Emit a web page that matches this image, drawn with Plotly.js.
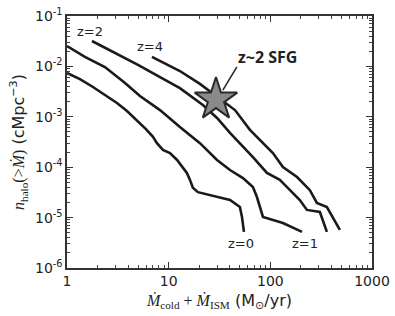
<!DOCTYPE html>
<html>
<head>
<meta charset="utf-8">
<script src="https://cdn.plot.ly/plotly-3.0.1.min.js"></script>
<style>html,body{margin:0;padding:0;background:#fff;}#chart{width:395px;height:316px;}</style>
</head>
<body>
<div id="chart"></div>
<script>
// Cumulative halo number density vs accretion rate
const z0x = [1, 1.34, 1.80, 2.36, 3.10, 3.89, 4.88, 5.98, 7.01, 7.67, 8.79, 10.3, 12.1, 13.8, 15.1, 16.2, 17.3, 19.4, 29.9, 40.1, 50.2, 52.6, 55.0];
const z0y = [7.4e-3, 5.6e-3, 3.9e-3, 2.7e-3, 1.88e-3, 1.30e-3, 8.6e-4, 5.7e-4, 4.0e-4, 3.0e-4, 2.2e-4, 1.9e-4, 1.39e-4, 9.6e-5, 7.7e-5, 5.6e-5, 3.9e-5, 3.2e-5, 2.56e-5, 2.23e-5, 1.62e-5, 1.03e-5, 5.2e-6];

const z1x = [1.00, 1.50, 2.36, 3.72, 5.22, 8.21, 12.9, 20.3, 29.9, 40.1, 53.8, 67.4, 73.8, 84.6, 133, 205];
const z1y = [2.54e-2, 1.54e-2, 9.7e-3, 4.7e-3, 2.59e-3, 1.36e-3, 6.3e-4, 3.0e-4, 1.39e-4, 8.8e-5, 6.1e-5, 4.05e-5, 2.56e-5, 1.03e-5, 7.8e-6, 5.2e-6];

const z2x = [1.76, 2.96, 4.99, 9.20, 12.9, 21.7, 29.9, 40.1, 50.2, 67.4, 92.6, 124, 156, 195, 229, 307, 360];
const z2y = [3.19e-2, 1.85e-2, 1.07e-2, 5.4e-3, 3.7e-3, 1.71e-3, 9.5e-4, 4.8e-4, 3.0e-4, 1.59e-4, 7.7e-5, 5.6e-5, 3.5e-5, 2.23e-5, 1.42e-5, 1.29e-5, 5.2e-6];

const z4x = [6.85, 12.9, 20.3, 44.9, 63.0, 84.6, 106, 133, 183, 245, 287, 360, 483];
const z4y = [1.54e-2, 8.1e-3, 4.5e-3, 1.36e-3, 5.5e-4, 3.0e-4, 1.91e-4, 1.01e-4, 6.4e-5, 3.5e-5, 1.95e-5, 1.62e-5, 5.7e-6];

const starX = [29.2];
const starY = [2.2e-3];

const curveLabels = ['z=0', 'z=1', 'z=2', 'z=4'];
const starLabel = 'z~2 SFG';

const xTickVals = [1, 10, 100, 1000];
const xTickText = ['1', '10', '100', '1000'];
const yTickVals = [1e-6, 1e-5, 1e-4, 1e-3, 1e-2, 1e-1];
const yTickText = ['10<sup>-6</sup>', '10<sup>-5</sup>', '10<sup>-4</sup>', '10<sup>-3</sup>', '10<sup>-2</sup>', '10<sup>-1</sup>'];

const lineStyle = {color: '#1a1a1a', width: 2.6};
function curve(x, y, name) {
  return {x: x, y: y, mode: 'lines', line: lineStyle, name: name, showlegend: false, hoverinfo: 'skip'};
}

const traces = [
  curve(z0x, z0y, curveLabels[0]),
  curve(z1x, z1y, curveLabels[1]),
  curve(z2x, z2y, curveLabels[2]),
  curve(z4x, z4y, curveLabels[3]),
  {x: starX, y: starY, mode: 'markers', showlegend: false, hoverinfo: 'skip',
   marker: {symbol: 'star', size: 32, color: '#8a8a8a', line: {color: '#2a2a2a', width: 2}}}
];

const tickFont = {family: 'DejaVu Sans', size: 14, color: '#222'};
const serif = 'font-family:Liberation Serif, DejaVu Serif';

const axisCommon = {
  type: 'log',
  showgrid: false,
  zeroline: false,
  showline: true,
  linecolor: '#333',
  linewidth: 1.6,
  mirror: 'allticks',
  ticks: 'inside',
  ticklen: 6,
  tickwidth: 1.2,
  tickcolor: '#333',
  tickmode: 'array',
  tickfont: tickFont,
  minor: {ticks: 'inside', ticklen: 3, tickwidth: 1, tickcolor: '#444', dtick: 'D1', showgrid: false}
};

const labelFont = {family: 'DejaVu Sans', size: 13, color: '#222'};
function label(x, y, text, font) {
  return {xref: 'paper', yref: 'paper', x: x, y: y, xanchor: 'center', yanchor: 'middle',
          text: text, showarrow: false, font: font || labelFont};
}

const layout = {
  width: 395, height: 316,
  margin: {l: 67, r: 23, t: 16, b: 48},
  paper_bgcolor: '#fff', plot_bgcolor: '#fff',
  font: {family: 'DejaVu Sans', color: '#222'},
  xaxis: Object.assign({}, axisCommon, {
    range: [0, 3],
    tickvals: xTickVals, ticktext: xTickText,
    title: {
      text: '<span style="' + serif + '"><i>Ṁ</i><sub>cold</sub> + <i>Ṁ</i><sub>ISM</sub></span> (M<sub>⊙</sub>/yr)',
      font: {family: 'DejaVu Sans', size: 16, color: '#222'},
      standoff: 6
    }
  }),
  yaxis: Object.assign({}, axisCommon, {
    range: [-6, -1],
    tickvals: yTickVals, ticktext: yTickText,
    title: {
      text: '<span style="' + serif + '"><i>n</i><sub>halo</sub>(&gt;<i>Ṁ</i>)</span> (cMpc<sup>−3</sup>)',
      font: {family: 'DejaVu Sans', size: 16, color: '#222'},
      standoff: 6
    }
  }),
  annotations: [
    label(0.570, 0.097, curveLabels[0]),
    label(0.780, 0.097, curveLabels[1]),
    label(0.077, 0.937, curveLabels[2]),
    label(0.272, 0.877, curveLabels[3]),
    label(0.659, 0.837, '<b>' + starLabel + '</b>', {family: 'Open Sans', size: 16, color: '#222'})
  ],
  shapes: [
    {type: 'line', xref: 'paper', yref: 'paper', x0: 0.557, y0: 0.798, x1: 0.511, y1: 0.706, line: {color: '#2a2a2a', width: 1.6}}
  ]
};

Plotly.newPlot('chart', traces, layout, {displayModeBar: false, staticPlot: true});
</script>
</body>
</html>
